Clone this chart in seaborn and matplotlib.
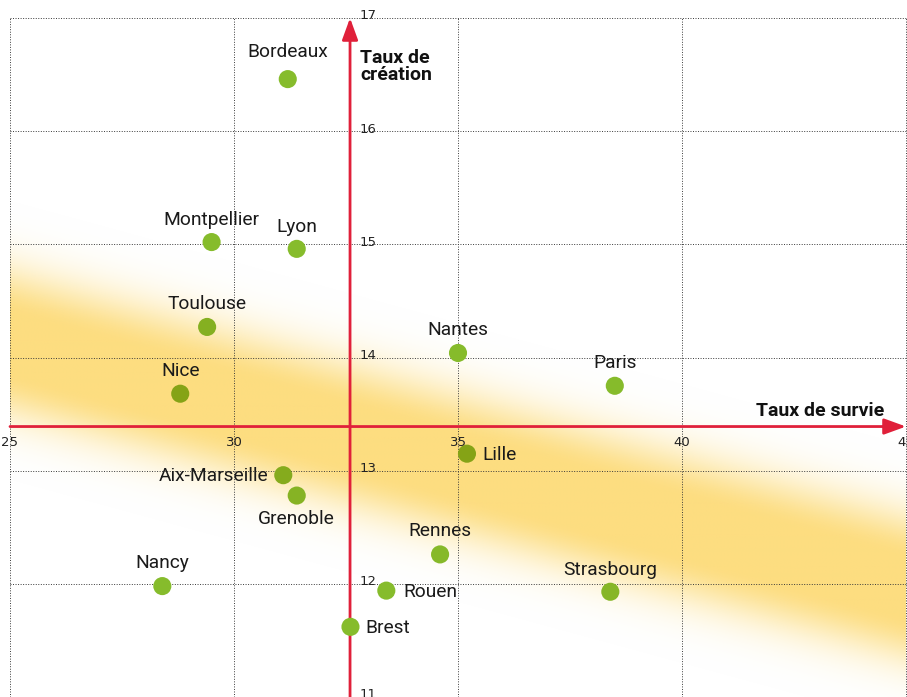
import numpy as np
import pandas as pd
import matplotlib
matplotlib.use("Agg")
import matplotlib.pyplot as plt
import seaborn as sns

# Taux de survie (x) et taux de création (y) par métropole
villes = ["Bordeaux", "Montpellier", "Lyon", "Toulouse", "Nice", "Nantes", "Paris",
          "Lille", "Aix-Marseille", "Grenoble", "Rennes", "Nancy", "Strasbourg",
          "Rouen", "Brest"]
survie = [31.2, 29.5, 31.4, 29.4, 28.8, 35.0, 38.5,
          35.2, 31.1, 31.4, 34.6, 28.4, 38.4,
          33.4, 32.6]
creation = [16.46, 15.02, 14.96, 14.27, 13.68, 14.04, 13.75,
            13.15, 12.96, 12.78, 12.26, 11.98, 11.93,
            11.94, 11.62]

x_ticks = [25, 30, 35, 40, 45]
y_ticks = [11, 12, 13, 14, 15, 16, 17]

# croisement des axes (moyennes)
x_cross = 32.59
y_cross = 13.39

# tendance (bande jaune)
trend_x = [25, 45]
trend_y = [14.12, 11.96]

# placement des étiquettes : décalage en pixels et alignement
placement = {
    "Bordeaux": (0, 27, "center"), "Montpellier": (0, 22, "center"),
    "Lyon": (0, 22, "center"), "Toulouse": (0, 23, "center"),
    "Nice": (0, 23, "center"), "Nantes": (0, 23, "center"),
    "Paris": (0, 23, "center"), "Lille": (15, -1, "left"),
    "Aix-Marseille": (-15, -1, "right"), "Grenoble": (0, -23, "center"),
    "Rennes": (0, 23, "center"), "Nancy": (0, 23, "center"),
    "Strasbourg": (0, 22, "center"), "Rouen": (17, -1, "left"),
    "Brest": (15, -1, "left"),
}

df = pd.DataFrame({"ville": villes, "survie": survie, "creation": creation})

sns.set_theme(style="white")
plt.rcParams["font.family"] = ["Roboto", "DejaVu Sans"]

W, H, DPI = 907, 697, 100
fig = plt.figure(figsize=(W / DPI, H / DPI), dpi=DPI)
ax = fig.add_axes([10 / W, 0.0, 896 / W, 679 / H])
xmin, xmax, ymin, ymax = 25, 45, 11, 17
ax.set_xlim(xmin, xmax)
ax.set_ylim(ymin, ymax)
for s in ax.spines.values():
    s.set_visible(False)
ax.set_xticks([])
ax.set_yticks([])

px_y = 679 / (ymax - ymin)

# bande de tendance en dégradé
band_rgb = np.array([253, 221, 128]) / 255


def band_alpha(x, y):
    yl = np.interp(x, trend_x, trend_y)
    d = (y - yl) * px_y
    d = np.where(d > 0, d * 0.95, d)
    a = np.exp(-(np.maximum(np.abs(d) - 28, 0) / 46) ** 2)
    return a


gx = np.linspace(xmin, xmax, 900)
gy = np.linspace(ymax, ymin, 700)
GX, GY = np.meshgrid(gx, gy)
A = band_alpha(GX, GY)
img = np.zeros(GX.shape + (4,))
img[..., :3] = band_rgb
img[..., 3] = A
ax.imshow(img, extent=[xmin, xmax, ymin, ymax], aspect="auto", zorder=0,
          interpolation="bilinear")

# quadrillage pointillé
grid_kw = dict(color="#3a3a3a", lw=0.7, ls=(0, (1, 1.6)), zorder=1, clip_on=False)
for xv in x_ticks:
    ax.axvline(xv, **grid_kw)
for yv in y_ticks:
    ax.axhline(yv, **grid_kw)

# axes rouges fléchés
red = "#E0203A"
ax.annotate("", xy=(xmax, y_cross), xytext=(xmin, y_cross),
            arrowprops=dict(arrowstyle="-|>,head_length=1.1,head_width=0.4",
                            color=red, lw=2, shrinkA=0, shrinkB=0),
            zorder=3, annotation_clip=False)
ax.annotate("", xy=(x_cross, ymax), xytext=(x_cross, ymin),
            arrowprops=dict(arrowstyle="-|>,head_length=1.1,head_width=0.4",
                            color=red, lw=2, shrinkA=0, shrinkB=0),
            zorder=3, annotation_clip=False)

# points : couleur verte assombrie par la bande (mode produit)
green = np.array([134, 188, 44]) / 255
cols = []
for xv, yv in zip(survie, creation):
    a = float(band_alpha(np.array(xv), np.array(yv)))
    c = green * (1 - a * (1 - band_rgb))
    cols.append(tuple(c))
sns.scatterplot(data=df, x="survie", y="creation", ax=ax, hue="ville",
                palette=dict(zip(villes, cols)), s=170, edgecolor="none",
                legend=False, zorder=4, clip_on=False)
ax.set_xlabel("")
ax.set_ylabel("")

# étiquettes des villes
for v, xv, yv in zip(villes, survie, creation):
    dx, dy, ha = placement[v]
    ax.annotate(v, (xv, yv), xytext=(dx * 0.72, dy * 0.72),
                textcoords="offset points", ha=ha, va="center",
                fontsize=13.8, color="#1a1a1a", zorder=5)

# graduations le long des axes rouges
tick_font = ["Liberation Sans Narrow", "DejaVu Sans"]
for xv in x_ticks:
    ax.annotate(str(xv), (xv, y_cross), xytext=(0, -11.5), textcoords="offset points",
                ha="center", va="center", fontsize=9.5, color="#222222",
                family=tick_font, annotation_clip=False, zorder=5)
for yv in y_ticks:
    ax.annotate(str(yv), (x_cross, yv), xytext=(7, 1.5), textcoords="offset points",
                ha="left", va="center", fontsize=9.5, color="#222222",
                family=tick_font, annotation_clip=False, zorder=5)

# titres des axes
ax.annotate("Taux de\ncréation", (x_cross, ymax), xytext=(7.5, -22.5),
            textcoords="offset points", ha="left", va="top", fontsize=14,
            fontweight="bold", color="#111111", linespacing=0.9, zorder=5)
ax.annotate("Taux de survie", (xmax, y_cross), xytext=(-16, 5),
            textcoords="offset points", ha="right", va="bottom", fontsize=14,
            fontweight="bold", color="#111111", zorder=5)

fig.savefig("out.png", dpi=DPI)
